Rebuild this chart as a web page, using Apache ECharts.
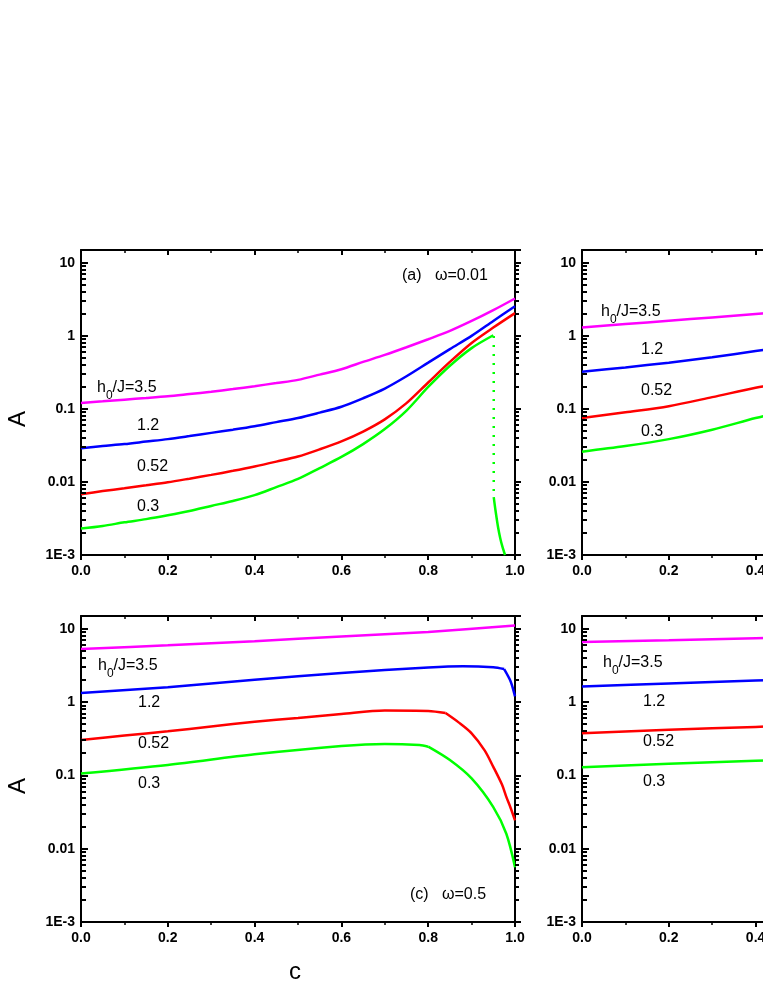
<!DOCTYPE html>
<html>
<head>
<meta charset="utf-8">
<script src="https://cdn.jsdelivr.net/npm/echarts@6/dist/echarts.min.js"></script>
<style>
  html, body { margin: 0; padding: 0; overflow: hidden; background: #fff; }
  #chart { width: 1060px; height: 987px; }
</style>
</head>
<body>
<div id="chart"></div>
<script>
// h0/J levels, top to bottom
const levels = ['3.5', '1.2', '0.52', '0.3']
const colors = ['#ff00ff', '#0000ff', '#ff0000', '#00ff00']

// (a) omega = 0.01
const cA = [0, 0.05, 0.1, 0.15, 0.2, 0.25, 0.3, 0.35, 0.4, 0.45, 0.5, 0.55, 0.6, 0.65, 0.7, 0.75, 0.8, 0.85, 0.9, 0.95, 1.0]
const aMagenta = [0.121, 0.127, 0.134, 0.141, 0.149, 0.16, 0.172, 0.187, 0.205, 0.226, 0.25, 0.295, 0.35, 0.44, 0.55, 0.7, 0.9, 1.17, 1.6, 2.25, 3.25]
const aBlue = [0.029, 0.031, 0.033, 0.0357, 0.0386, 0.0425, 0.047, 0.052, 0.058, 0.066, 0.075, 0.089, 0.107, 0.14, 0.19, 0.28, 0.43, 0.66, 1.0, 1.6, 2.55]
const aRed = [0.0068, 0.0075, 0.0082, 0.009, 0.0099, 0.0111, 0.0125, 0.0142, 0.0163, 0.019, 0.0223, 0.028, 0.036, 0.049, 0.072, 0.12, 0.23, 0.44, 0.8, 1.3, 2.05]
const cAGreen = [0, 0.05, 0.1, 0.15, 0.2, 0.25, 0.3, 0.35, 0.4, 0.45, 0.5, 0.55, 0.6, 0.65, 0.7, 0.75, 0.8, 0.85, 0.9, 0.95]
const aGreen = [0.0023, 0.0025, 0.0028, 0.0031, 0.0035, 0.004, 0.0047, 0.0055, 0.0066, 0.0085, 0.011, 0.0155, 0.022, 0.033, 0.053, 0.095, 0.2, 0.39, 0.68, 1.02]
// jump of the 0.3 curve
const cAJump = [0.951, 0.951]
const aJump = [1.0, 0.0062]
const cATail = [0.951, 0.955, 0.961, 0.966, 0.971, 0.977]
const aTail = [0.0062, 0.0041, 0.0024, 0.0017, 0.0013, 0.001]

// (b)
const cB = [0, 0.1, 0.2, 0.3, 0.4, 0.45]
const bMagenta = [1.30, 1.45, 1.61, 1.79, 1.99, 2.1]
const bBlue = [0.323, 0.37, 0.43, 0.51, 0.62, 0.68]
const bRed = [0.075, 0.09, 0.109, 0.145, 0.195, 0.22]
const bGreen = [0.026, 0.031, 0.0386, 0.052, 0.075, 0.088]

// (c) omega = 0.5
const cCMagenta = [0, 0.2, 0.4, 0.6, 0.8, 1.0]
const cMagenta = [5.3, 5.97, 6.8, 7.9, 9.1, 11.1]
const cCBlue = [0, 0.2, 0.4, 0.6, 0.8, 0.88, 0.95, 0.975, 0.99, 1.0]
const cBlue = [1.33, 1.6, 2.02, 2.5, 2.98, 3.1, 3.0, 2.83, 1.92, 1.2]
const cCRed = [0, 0.1, 0.2, 0.3, 0.4, 0.5, 0.6, 0.7, 0.8, 0.84, 0.87, 0.9, 0.93, 0.95, 0.97, 0.98, 0.99, 1.0]
const cRed = [0.305, 0.35, 0.40, 0.465, 0.54, 0.61, 0.69, 0.77, 0.76, 0.71, 0.53, 0.376, 0.22, 0.131, 0.075, 0.051, 0.036, 0.0244]
const cCGreen = [0, 0.2, 0.4, 0.6, 0.7, 0.78, 0.8, 0.85, 0.9, 0.95, 0.98, 1.0]
const cGreen = [0.106, 0.139, 0.194, 0.252, 0.269, 0.26, 0.247, 0.162, 0.091, 0.037, 0.016, 0.0056]
// index where the (c) curves bend sharply
const cKinks = { blue: 7, red: 9, green: 6 }

// (d)
const cD = [0, 0.2, 0.4, 0.45]
const dMagenta = [6.64, 7.0, 7.45, 7.55]
const dBlue = [1.64, 1.8, 1.98, 2.02]
const dRed = [0.376, 0.42, 0.46, 0.47]
const dGreen = [0.129, 0.144, 0.159, 0.162]

const yMin = 0.001
const yMax = 15

const font = '"Liberation Sans", Arial, sans-serif'

const grids = [
  { left: 81, top: 250, width: 434, height: 305 },
  { left: 582, top: 250, width: 434, height: 305 },
  { left: 81, top: 616, width: 434, height: 306 },
  { left: 582, top: 616, width: 434, height: 306 }
]

function zip(xs, ys) {
  return xs.map((x, i) => [x, ys[i]])
}

function yLabel(v) {
  const e = Math.log10(v)
  const r = Math.round(e)
  if (Math.abs(e - r) > 1e-6) return ''
  if (r === -3) return '1E-3'
  if (r < 0) return (Math.pow(10, r)).toFixed(-r)
  return String(Math.pow(10, r))
}

// minor ticks of the log axis (2..9 per decade)
const minorVals = []
for (let k = -3; k <= 1; k++) {
  for (let m = 2; m <= 9; m++) {
    const v = m * Math.pow(10, k)
    if (v < yMax) minorVals.push([0.5, v])
  }
}

const axisLine = { onZero: false, lineStyle: { color: '#000', width: 2 } }

const xAxes = []
const yAxes = []
grids.forEach((g, i) => {
  xAxes.push({
    gridIndex: i, type: 'value', min: 0, max: 1, interval: 0.2, position: 'bottom',
    axisLine: axisLine,
    axisTick: { inside: false, length: 5, lineStyle: { width: 2 } },
    minorTick: { show: true, splitNumber: 2, length: 3, lineStyle: { color: '#000', width: 1.5 } },
    splitLine: { show: false },
    axisLabel: { color: '#000', fontWeight: 'bold', fontSize: 14, fontFamily: font, margin: 9,
      formatter: v => v.toFixed(1) }
  })
  xAxes.push({
    gridIndex: i, type: 'value', min: 0, max: 1, interval: 0.2, position: 'top',
    axisLine: axisLine,
    axisTick: { inside: true, length: 5, lineStyle: { width: 2 } },
    minorTick: { show: true, splitNumber: 2, length: 3, lineStyle: { color: '#000', width: 1.5 } },
    splitLine: { show: false },
    axisLabel: { show: false }
  })
  yAxes.push({
    gridIndex: i, type: 'log', logBase: 10, min: yMin, max: yMax, position: 'left',
    axisLine: axisLine,
    axisTick: { inside: true, length: 7, lineStyle: { width: 2 } },
    splitLine: { show: false },
    axisLabel: { color: '#000', fontWeight: 'bold', fontSize: 14, fontFamily: font, margin: 6,
      formatter: yLabel }
  })
  yAxes.push({
    gridIndex: i, type: 'log', logBase: 10, min: yMin, max: yMax, position: 'right',
    axisLine: axisLine,
    axisTick: { inside: false, length: 6, lineStyle: { width: 2 } },
    splitLine: { show: false },
    axisLabel: { show: false }
  })
})

function curve(i, xs, ys, color, extra) {
  return Object.assign({
    type: 'line',
    xAxisIndex: 2 * i,
    yAxisIndex: 2 * i,
    data: zip(xs, ys),
    showSymbol: false,
    smooth: 0.3,
    lineStyle: { color: color, width: 2.5 },
    z: 3
  }, extra || {})
}

// split a curve at a sharp bend so smoothing keeps the corner
function bent(i, xs, ys, k, color) {
  return [
    curve(i, xs.slice(0, k + 1), ys.slice(0, k + 1), color),
    curve(i, xs.slice(k), ys.slice(k), color)
  ]
}

const series = [
  curve(0, cA, aMagenta, colors[0]),
  curve(0, cA, aBlue, colors[1]),
  curve(0, cA, aRed, colors[2]),
  curve(0, cAGreen, aGreen, colors[3]),
  curve(0, cAJump, aJump, colors[3], { smooth: false, lineStyle: { color: colors[3], width: 2.5, type: [2, 7] } }),
  curve(0, cATail, aTail, colors[3]),
  curve(1, cB, bMagenta, colors[0]),
  curve(1, cB, bBlue, colors[1]),
  curve(1, cB, bRed, colors[2]),
  curve(1, cB, bGreen, colors[3]),
  curve(2, cCMagenta, cMagenta, colors[0]),
  ...bent(2, cCBlue, cBlue, cKinks.blue, colors[1]),
  ...bent(2, cCRed, cRed, cKinks.red, colors[2]),
  ...bent(2, cCGreen, cGreen, cKinks.green, colors[3]),
  curve(3, cD, dMagenta, colors[0]),
  curve(3, cD, dBlue, colors[1]),
  curve(3, cD, dRed, colors[2]),
  curve(3, cD, dGreen, colors[3])
]

grids.forEach((g, i) => {
  series.push({
    type: 'custom',
    xAxisIndex: 2 * i,
    yAxisIndex: 2 * i,
    silent: true,
    clip: false,
    z: 5,
    data: minorVals,
    renderItem: function (params, api) {
      const cs = params.coordSys
      const y = Math.round(api.coord([0.5, api.value(1)])[1])
      const xl = cs.x
      const xr = cs.x + cs.width
      return {
        type: 'group',
        children: [
          { type: 'line', shape: { x1: xl, y1: y, x2: xl + 5, y2: y }, style: { stroke: '#000', lineWidth: 2 } },
          { type: 'line', shape: { x1: xr, y1: y, x2: xr + 4, y2: y }, style: { stroke: '#000', lineWidth: 2 } }
        ]
      }
    }
  })
})

function txt(x, y, text, size) {
  return {
    type: 'text',
    style: { x: x, y: y, text: text, font: size + 'px ' + font, fill: '#000', textVerticalAlign: 'middle' }
  }
}

function bigText(x, y, text, rotation) {
  return {
    type: 'text',
    x: x,
    y: y,
    rotation: rotation,
    style: { x: 0, y: 0, text: text, font: '24px ' + font, fill: '#000', textAlign: 'center', textVerticalAlign: 'middle' }
  }
}

// h0/J=3.5 with subscript 0
function hLabel(x, y) {
  return {
    type: 'group',
    children: [
      txt(x, y, 'h', 16),
      txt(x + 9, y + 8, '0', 12),
      txt(x + 15.5, y, '/J=' + levels[0], 16)
    ]
  }
}

function levelLabels(x, y0, ys) {
  return [
    hLabel(x, y0),
    txt(x + 40, ys[0], levels[1], 16),
    txt(x + 40, ys[1], levels[2], 16),
    txt(x + 40, ys[2], levels[3], 16)
  ]
}

const graphic = [].concat(
  levelLabels(97, 388, [426, 467, 507]),
  levelLabels(601, 312, [350, 391, 432]),
  levelLabels(98, 666, [703, 744, 784]),
  levelLabels(603, 663, [702, 742, 782]),
  [
    txt(402, 276, '(a)   \u03c9=0.01', 16),
    txt(410, 895, '(c)   \u03c9=0.5', 16),
    bigText(18, 419, 'A', Math.PI / 2),
    bigText(18, 786, 'A', Math.PI / 2),
    bigText(295, 972, 'c', 0)
  ]
)

const chart = echarts.init(document.getElementById('chart'))
chart.setOption({
  animation: false,
  backgroundColor: '#fff',
  grid: grids,
  xAxis: xAxes,
  yAxis: yAxes,
  series: series,
  graphic: graphic
})
</script>
</body>
</html>
